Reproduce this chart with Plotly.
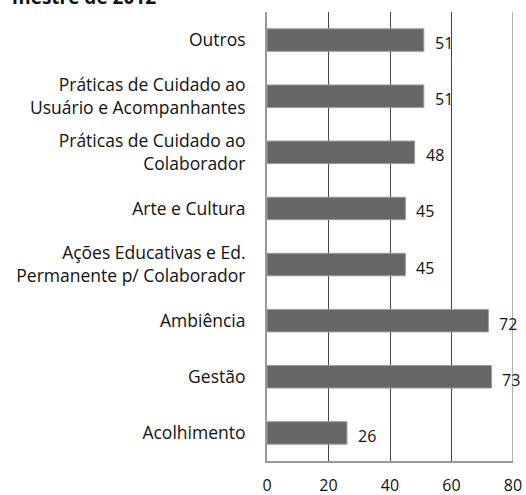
import plotly.graph_objects as go

categories = [
    "Acolhimento",
    "Gestão",
    "Ambiência",
    "Ações Educativas e Ed.<br>Permanente p/ Colaborador",
    "Arte e Cultura",
    "Práticas de Cuidado ao<br>Colaborador",
    "Práticas de Cuidado ao<br>Usuário e Acompanhantes",
    "Outros",
]
values = [26, 73, 72, 45, 45, 48, 51, 51]
x_ticks = [0, 20, 40, 60, 80]
title_fragment = "mestre de 2012"

FONT = "'Open Sans', Lato, sans-serif"
L, R, T, B = 267, 13, 12, 34
W, H = 526, 495
PW = W - L - R

fig = go.Figure()
fig.add_trace(go.Bar(
    y=categories,
    x=values,
    orientation="h",
    marker=dict(color="#666666", line=dict(color="#9a9a9a", width=1)),
    hoverinfo="skip",
))

for c, v in zip(categories, values):
    fig.add_annotation(
        x=v, y=c, text=str(v), showarrow=False,
        xanchor="left", yanchor="middle", xshift=9, yshift=-3,
        font=dict(family=FONT, size=16, color="#111111"),
    )

fig.add_annotation(
    xref="paper", yref="paper", x=-0.9, y=1.0, xanchor="left", yanchor="bottom",
    xshift=(10 - L) + 0.9 * PW, yshift=0, text="<b>" + title_fragment + "</b>",
    showarrow=False,
    font=dict(family=FONT, size=19, color="#111111"),
)

fig.update_layout(
    width=W, height=H,
    margin=dict(l=L, r=R, t=T, b=B, autoexpand=False),
    paper_bgcolor="white", plot_bgcolor="white",
    bargap=0.6,
    showlegend=False,
    font=dict(family=FONT, size=17.5, color="#111111"),
)
fig.update_xaxes(
    range=[0, 80], tickvals=x_ticks, ticktext=[str(t) for t in x_ticks],
    showgrid=True, gridcolor="#444444", gridwidth=1,
    showline=True, linecolor="#999999", linewidth=1.5, mirror=False,
    zeroline=False, ticks="", ticklabelstandoff=9, automargin=False,
    tickfont=dict(family=FONT, size=16, color="#111111"),
    fixedrange=True,
)
fig.update_yaxes(
    showgrid=False, showline=True, linecolor="#999999", linewidth=2,
    ticks="", ticklabelstandoff=16, automargin=False,
    tickfont=dict(family=FONT, size=17.5, color="#111111"),
    fixedrange=True,
)
fig.add_shape(type="line", xref="x", yref="paper", x0=80, x1=80, y0=0, y1=1,
              line=dict(color="#999999", width=1.5))

fig.write_html(
    "out.html",
    config={"displayModeBar": False, "staticPlot": True},
    post_script="document.body.style.margin='0';document.body.style.overflow='hidden';",
)
